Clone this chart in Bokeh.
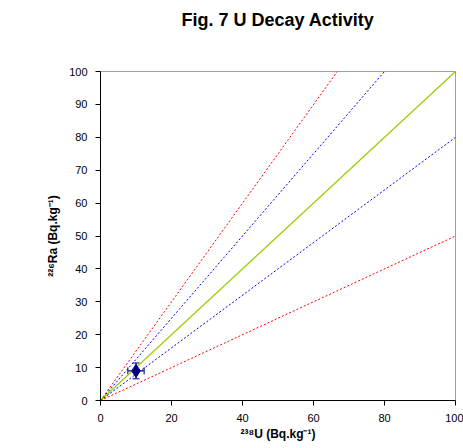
from bokeh.plotting import figure
from bokeh.models import Range1d, FixedTicker, Whisker, ColumnDataSource, Title
from bokeh.embed import file_html
from bokeh.resources import INLINE

# data
u238 = [10.0]
ra226 = [9.0]
u_err = [2.3]
ra_err = [2.4]

# ratio reference lines (endpoints)
line_150_x = [0, 66.7]
line_150_y = [0, 100]
line_125_x = [0, 80]
line_125_y = [0, 100]
line_100_x = [0, 100]
line_100_y = [0, 100]
line_080_x = [0, 100]
line_080_y = [0, 80]
line_050_x = [0, 100]
line_050_y = [0, 50]

x_ticks = [0, 20, 40, 60, 80, 100]
y_ticks = [0, 10, 20, 30, 40, 50, 60, 70, 80, 90, 100]

FONT = "Liberation Sans"

p = figure(width=463, height=448, output_backend="svg", toolbar_location=None,
           x_range=Range1d(0, 100), y_range=Range1d(0, 100),
           min_border_left=100, min_border_right=8, min_border_top=0, min_border_bottom=48,
           title="Fig. 7 U Decay Activity")
p.title.align = "center"
p.title.text_font = FONT
p.title.text_font_size = "18px"
p.title.text_font_style = "bold"
p.title.text_color = "black"
p.title.standoff = 14

spacer = Title(text=" ", text_font_size="16px", standoff=16, align="center")
p.add_layout(spacer, "above")

p.xgrid.visible = False
p.ygrid.visible = False
p.outline_line_color = "#a0a0a0"
p.outline_line_width = 1

for ax, ticks in ((p.xaxis, x_ticks), (p.yaxis, y_ticks)):
    ax.ticker = FixedTicker(ticks=ticks)
    ax.minor_tick_line_color = None
    ax.major_tick_in = 0
    ax.major_tick_out = 5
    ax.axis_line_color = "black"
    ax.major_tick_line_color = "black"
    ax.major_label_text_font = FONT
    ax.major_label_text_font_size = "11px"
    ax.major_label_text_color = "black"
    ax.axis_label_text_font = FONT
    ax.axis_label_text_font_size = "12px"
    ax.axis_label_text_font_style = "bold"
    ax.axis_label_text_color = "black"

p.xaxis.axis_label = "²³⁸U (Bq.kg⁻¹)"
p.yaxis.axis_label = "²²⁶Ra (Bq.kg⁻¹)"
p.xaxis.major_label_standoff = 8
p.yaxis.major_label_standoff = 8
p.xaxis.axis_label_standoff = 2
p.yaxis.axis_label_standoff = 6

p.line(line_150_x, line_150_y, line_color="#ff0000", line_dash="2 2", line_width=1)
p.line(line_125_x, line_125_y, line_color="#0000ff", line_dash="2 2", line_width=1)
p.line(line_100_x, line_100_y, line_color="#99cc00", line_width=1.2)
p.line(line_080_x, line_080_y, line_color="#0000ff", line_dash="2 2", line_width=1)
p.line(line_050_x, line_050_y, line_color="#ff0000", line_dash="2 2", line_width=1)

src = ColumnDataSource(dict(
    x=u238, y=ra226,
    xl=[a - e for a, e in zip(u238, u_err)], xu=[a + e for a, e in zip(u238, u_err)],
    yl=[a - e for a, e in zip(ra226, ra_err)], yu=[a + e for a, e in zip(ra226, ra_err)],
))
wy = Whisker(source=src, base="x", lower="yl", upper="yu", dimension="height",
             line_color="#000080", line_width=1.2)
wy.upper_head.size = 7
wy.lower_head.size = 7
wy.upper_head.line_color = "#000080"
wy.lower_head.line_color = "#000080"
wx = Whisker(source=src, base="y", lower="xl", upper="xu", dimension="width",
             line_color="#000080", line_width=1.2)
wx.upper_head.size = 7
wx.lower_head.size = 7
wx.upper_head.line_color = "#000080"
wx.lower_head.line_color = "#000080"
p.add_layout(wy)
p.add_layout(wx)
p.scatter("x", "y", source=src, marker="diamond", size=13, fill_color="#000080", line_color="#000080")

open("out.html", "w").write(file_html(p, INLINE))
